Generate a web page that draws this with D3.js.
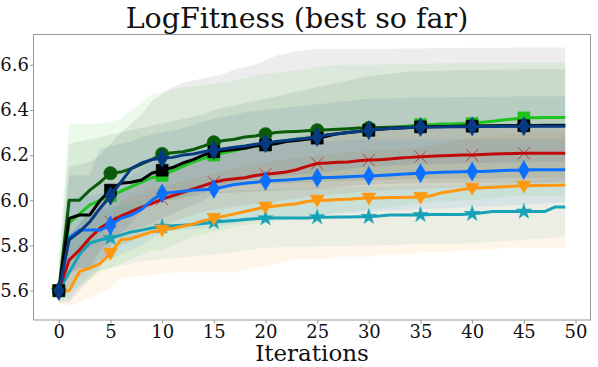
<!DOCTYPE html>
<html>
<head>
<meta charset="utf-8">
<script src="https://cdn.jsdelivr.net/npm/d3@7/dist/d3.min.js"></script>
<style>
  body { margin: 0; background: #fff; }
  text { font-family: "DejaVu Serif", serif; fill: #111; }
</style>
</head>
<body>
<svg id="chart" width="598" height="367"></svg>
<script>
// best-so-far LogFitness per iteration (index = iteration)
var darkGreen = [5.60,6.00,6.00,6.045,6.08,6.12,6.125,6.14,6.16,6.18,
  6.205,6.21,6.215,6.225,6.24,6.257,6.265,6.27,6.28,6.285,
  6.293,6.30,6.303,6.305,6.308,6.31,6.312,6.315,6.317,6.32,
  6.32,6.322,6.323,6.324,6.325,6.326,6.327,6.327,6.328,6.328,
  6.329,6.329,6.33,6.33,6.33,6.331,6.331,6.332,6.332,6.332];
var limeGreen = [5.60,5.90,5.94,5.98,6.00,6.02,6.04,6.06,6.08,6.10,
  6.11,6.13,6.15,6.17,6.185,6.20,6.21,6.22,6.23,6.24,
  6.245,6.255,6.265,6.27,6.275,6.28,6.29,6.295,6.30,6.305,
  6.31,6.315,6.32,6.325,6.33,6.335,6.335,6.338,6.338,6.34,
  6.34,6.345,6.35,6.355,6.36,6.365,6.365,6.366,6.366,6.366];
var black = [5.60,5.92,5.935,5.935,6.00,6.045,6.075,6.08,6.09,6.12,
  6.133,6.145,6.165,6.18,6.20,6.215,6.22,6.225,6.23,6.24,
  6.245,6.25,6.26,6.265,6.27,6.275,6.285,6.295,6.30,6.305,
  6.31,6.315,6.318,6.32,6.322,6.325,6.326,6.327,6.327,6.328,
  6.328,6.329,6.329,6.33,6.33,6.33,6.33,6.331,6.331,6.331];
var navy = [5.60,5.825,5.86,5.905,5.965,6.02,6.08,6.14,6.165,6.18,
  6.186,6.19,6.20,6.205,6.215,6.222,6.228,6.235,6.24,6.248,
  6.253,6.26,6.265,6.27,6.275,6.28,6.29,6.295,6.30,6.305,
  6.31,6.315,6.318,6.32,6.322,6.324,6.325,6.325,6.326,6.326,
  6.327,6.327,6.327,6.328,6.328,6.328,6.328,6.328,6.328,6.328];
var red = [5.60,5.735,5.78,5.833,5.877,5.905,5.93,5.95,5.97,5.985,
  6.005,6.02,6.035,6.05,6.065,6.08,6.09,6.095,6.10,6.11,
  6.115,6.12,6.125,6.135,6.15,6.163,6.165,6.168,6.17,6.175,
  6.178,6.18,6.183,6.187,6.19,6.193,6.195,6.197,6.198,6.20,
  6.20,6.203,6.205,6.206,6.207,6.208,6.208,6.208,6.208,6.208];
var blue = [5.60,5.835,5.868,5.868,5.868,5.89,5.92,5.935,5.96,6.00,
  6.03,6.035,6.04,6.045,6.047,6.05,6.06,6.07,6.075,6.08,
  6.085,6.088,6.09,6.093,6.097,6.10,6.101,6.102,6.104,6.106,
  6.108,6.11,6.112,6.115,6.118,6.12,6.122,6.124,6.125,6.126,
  6.127,6.128,6.13,6.132,6.133,6.134,6.135,6.135,6.135,6.135];
var orange = [5.60,5.60,5.685,5.70,5.72,5.765,5.825,5.83,5.845,5.86,
  5.868,5.875,5.885,5.895,5.91,5.92,5.93,5.94,5.95,5.96,
  5.97,5.975,5.98,5.985,5.995,6.00,6.00,6.003,6.005,6.008,
  6.01,6.01,6.012,6.012,6.013,6.013,6.02,6.033,6.04,6.048,
  6.053,6.055,6.058,6.06,6.062,6.063,6.065,6.066,6.067,6.068];
var teal = [5.60,5.68,5.76,5.81,5.825,5.833,5.846,5.86,5.868,5.877,
  5.883,5.887,5.89,5.893,5.897,5.903,5.907,5.91,5.915,5.918,
  5.92,5.922,5.922,5.922,5.922,5.925,5.925,5.926,5.926,5.927,
  5.927,5.93,5.935,5.935,5.935,5.935,5.937,5.937,5.937,5.937,
  5.94,5.945,5.95,5.95,5.95,5.95,5.95,5.95,5.97,5.97];

// shaded spread (upper / lower edge) for each run
var limeGreenHi = [5.75,6.34,6.34,6.34,6.34,6.345,6.36,6.40,6.43,6.47,
  6.48,6.49,6.50,6.505,6.51,6.515,6.52,6.53,6.54,6.55,
  6.56,6.565,6.57,6.575,6.58,6.59,6.595,6.60,6.60,6.60,
  6.60,6.60,6.602,6.603,6.604,6.605,6.606,6.607,6.607,6.608,
  6.608,6.609,6.609,6.61,6.61,6.61,6.61,6.61,6.61,6.61];
var limeGreenLo = [5.53,5.60,5.62,5.65,5.68,5.70,5.72,5.74,5.76,5.78,
  5.78,5.80,5.82,5.84,5.85,5.86,5.87,5.88,5.89,5.895,
  5.90,5.905,5.91,5.92,5.925,5.93,5.94,5.945,5.95,5.955,
  5.96,5.965,5.97,5.975,5.98,5.99,5.99,5.995,5.995,6.00,
  6.00,6.005,6.01,6.015,6.02,6.02,6.02,6.02,6.02,6.02];
var darkGreenHi = [5.70,6.25,6.26,6.27,6.28,6.29,6.30,6.31,6.32,6.33,
  6.34,6.35,6.36,6.37,6.38,6.40,6.41,6.42,6.43,6.44,
  6.45,6.46,6.47,6.48,6.49,6.50,6.51,6.52,6.53,6.54,
  6.55,6.555,6.56,6.565,6.57,6.57,6.572,6.574,6.575,6.576,
  6.577,6.578,6.578,6.579,6.579,6.58,6.58,6.58,6.58,6.58];
var darkGreenLo = [5.55,5.75,5.76,5.80,5.85,5.90,5.92,5.94,5.96,5.98,
  6.00,6.00,6.01,6.02,6.03,6.05,6.055,6.06,6.065,6.07,
  6.07,6.072,6.074,6.076,6.078,6.08,6.082,6.084,6.086,6.088,
  6.09,6.09,6.09,6.092,6.092,6.094,6.094,6.095,6.095,6.096,
  6.096,6.097,6.097,6.098,6.098,6.099,6.099,6.10,6.10,6.10];
var blackHi = [5.65,6.15,6.16,6.17,6.20,6.25,6.30,6.34,6.38,6.44,
  6.47,6.50,6.52,6.53,6.54,6.55,6.56,6.58,6.59,6.60,
  6.62,6.64,6.65,6.66,6.665,6.67,6.67,6.67,6.67,6.67,
  6.67,6.67,6.67,6.672,6.672,6.672,6.673,6.673,6.674,6.674,
  6.675,6.675,6.675,6.675,6.676,6.676,6.676,6.677,6.677,6.677];
var blackLo = [5.55,5.68,5.70,5.70,5.78,5.83,5.86,5.87,5.88,5.90,
  5.92,5.94,5.96,5.98,6.00,6.03,6.032,6.034,6.036,6.038,
  6.04,6.042,6.044,6.046,6.048,6.05,6.054,6.058,6.062,6.066,
  6.07,6.071,6.072,6.073,6.074,6.075,6.075,6.076,6.076,6.077,
  6.077,6.078,6.078,6.079,6.079,6.08,6.08,6.08,6.08,6.08];
var navyHi = [5.62,6.11,6.11,6.11,6.23,6.24,6.25,6.26,6.28,6.29,
  6.30,6.31,6.32,6.33,6.35,6.36,6.37,6.38,6.39,6.395,
  6.40,6.405,6.41,6.415,6.42,6.425,6.43,6.435,6.44,6.445,
  6.45,6.45,6.452,6.452,6.454,6.454,6.455,6.455,6.456,6.456,
  6.457,6.457,6.458,6.458,6.459,6.459,6.46,6.46,6.46,6.46];
var navyLo = [5.55,5.55,5.60,5.65,5.70,5.80,5.85,5.90,5.95,5.98,
  6.00,6.01,6.02,6.035,6.05,6.06,6.07,6.08,6.09,6.095,
  6.10,6.104,6.108,6.112,6.116,6.12,6.126,6.132,6.138,6.144,
  6.15,6.152,6.154,6.156,6.158,6.16,6.16,6.162,6.162,6.164,
  6.164,6.165,6.166,6.167,6.168,6.168,6.169,6.17,6.17,6.17];
var redHi = [5.62,5.85,5.90,5.95,6.00,6.02,6.05,6.07,6.09,6.10,
  6.12,6.14,6.16,6.17,6.185,6.20,6.21,6.22,6.23,6.24,
  6.25,6.26,6.27,6.28,6.29,6.30,6.305,6.31,6.315,6.318,
  6.32,6.322,6.323,6.324,6.325,6.325,6.326,6.326,6.327,6.327,
  6.328,6.328,6.328,6.329,6.329,6.33,6.33,6.33,6.33,6.33];
var redLo = [5.58,5.62,5.66,5.70,5.74,5.76,5.80,5.82,5.85,5.87,
  5.89,5.905,5.92,5.935,5.95,5.96,5.966,5.972,5.978,5.984,
  5.99,5.996,6.002,6.008,6.014,6.02,6.024,6.028,6.032,6.036,
  6.04,6.042,6.044,6.046,6.048,6.05,6.052,6.054,6.056,6.058,
  6.06,6.062,6.064,6.066,6.068,6.07,6.072,6.074,6.077,6.08];
var blueHi = [5.62,6.00,6.02,6.02,6.03,6.05,6.08,6.11,6.14,6.17,
  6.20,6.203,6.206,6.21,6.215,6.22,6.226,6.232,6.238,6.244,
  6.25,6.252,6.254,6.256,6.258,6.26,6.262,6.264,6.266,6.268,
  6.27,6.27,6.27,6.27,6.27,6.27,6.27,6.27,6.27,6.27,
  6.27,6.27,6.27,6.27,6.27,6.27,6.27,6.27,6.27,6.27];
var blueLo = [5.58,5.67,5.70,5.70,5.72,5.74,5.76,5.78,5.80,5.83,
  5.86,5.864,5.868,5.872,5.876,5.88,5.888,5.896,5.904,5.912,
  5.92,5.923,5.926,5.929,5.932,5.935,5.938,5.941,5.944,5.947,
  5.95,5.952,5.954,5.956,5.958,5.96,5.962,5.964,5.966,5.968,
  5.97,5.972,5.974,5.976,5.978,5.98,5.983,5.986,5.988,5.99];
var orangeHi = [5.62,5.70,5.80,5.83,5.87,5.92,6.00,6.02,6.03,6.05,
  6.06,6.072,6.084,6.096,6.108,6.12,6.13,6.14,6.15,6.16,
  6.17,6.176,6.182,6.188,6.194,6.20,6.204,6.208,6.212,6.216,
  6.22,6.222,6.224,6.226,6.228,6.23,6.24,6.25,6.26,6.27,
  6.28,6.284,6.288,6.292,6.296,6.30,6.30,6.30,6.30,6.30];
var orangeLo = [5.55,5.53,5.55,5.57,5.59,5.61,5.656,5.66,5.665,5.67,
  5.675,5.68,5.68,5.68,5.68,5.68,5.68,5.68,5.69,5.70,
  5.71,5.72,5.73,5.74,5.74,5.74,5.74,5.75,5.75,5.75,
  5.75,5.76,5.76,5.76,5.76,5.77,5.77,5.77,5.77,5.78,
  5.78,5.78,5.78,5.79,5.79,5.79,5.79,5.79,5.79,5.79];
var tealHi = [5.62,5.80,5.90,5.95,5.96,5.97,5.98,5.99,6.00,6.01,
  6.02,6.024,6.028,6.032,6.036,6.04,6.042,6.044,6.046,6.048,
  6.05,6.051,6.052,6.053,6.054,6.055,6.056,6.057,6.058,6.059,
  6.06,6.061,6.062,6.063,6.064,6.065,6.066,6.067,6.068,6.069,
  6.07,6.073,6.076,6.079,6.082,6.085,6.088,6.091,6.095,6.10];
var tealLo = [5.58,5.56,5.62,5.67,5.69,5.70,5.71,5.72,5.73,5.735,
  5.74,5.744,5.748,5.752,5.756,5.76,5.766,5.772,5.778,5.784,
  5.79,5.791,5.792,5.793,5.794,5.795,5.796,5.797,5.798,5.799,
  5.80,5.801,5.802,5.803,5.804,5.805,5.806,5.807,5.808,5.809,
  5.81,5.813,5.816,5.819,5.822,5.825,5.828,5.831,5.835,5.84];

var xTicks = [0, 5, 10, 15, 20, 25, 30, 35, 40, 45, 50];
var yTicks = [5.6, 5.8, 6.0, 6.2, 6.4, 6.6];
var markEvery = 5;

// draw order matters: last one ends up on top
var runs = [
  {color: "#17a2b8", marker: "star",    mean: teal,      hi: tealHi,      lo: tealLo},
  {color: "#ff9811", marker: "tridown", mean: orange,    hi: orangeHi,    lo: orangeLo},
  {color: "#c00a0a", marker: "x",       mean: red,       hi: redHi,       lo: redLo},
  {color: "#0b6fff", marker: "thind",   mean: blue,      hi: blueHi,      lo: blueLo},
  {color: "#1ec31e", marker: "square",  mean: limeGreen, hi: limeGreenHi, lo: limeGreenLo},
  {color: "#0a5c0a", marker: "circle",  mean: darkGreen, hi: darkGreenHi, lo: darkGreenLo},
  {color: "#000000", marker: "square",  mean: black,     hi: blackHi,     lo: blackLo},
  {color: "#083a82", marker: "thind",   mean: navy,      hi: navyHi,      lo: navyLo}
];

var svg = d3.select("#chart");
// plot box (note: "top" is reserved on window, so use a prefix)
var boxLeft = 33.5, boxRight = 590.5, boxTop = 34.5, boxBottom = 320;

var x = d3.scaleLinear().domain([-2.45, 51.45]).range([boxLeft, boxRight]);
var y = d3.scaleLinear().domain([5.47, 6.734]).range([boxBottom, boxTop]);

var plot = svg.append("g");

// bands first, all of them
var area = d3.area()
  .x(function(d, i) { return x(i); })
  .y0(function(d) { return y(d[1]); })
  .y1(function(d) { return y(d[0]); });

runs.forEach(function(r) {
  var pts = r.hi.map(function(h, i) { return [h, r.lo[i]]; });
  plot.append("path")
    .attr("d", area(pts))
    .attr("fill", r.color)
    .attr("fill-opacity", r.color === "#000000" ? 0.07 : 0.085);
});

var line = d3.line()
  .x(function(d, i) { return x(i); })
  .y(function(d) { return y(d); });

function markerPath(kind) {
  if (kind === "circle") return d3.symbol(d3.symbolCircle, 140)();
  if (kind === "square") return "M-6,-6H6V6H-6Z";
  if (kind === "thind") return "M0,-9.5L5.5,0L0,9.5L-5.5,0Z";
  if (kind === "star") return d3.symbol(d3.symbolStar, 75)();
  if (kind === "tridown") return "M-7,-5H7L0,7Z";
  return "M-6,-6L6,6M-6,6L6,-6";
}

runs.forEach(function(r) {
  plot.append("path")
    .attr("d", line(r.mean))
    .attr("fill", "none")
    .attr("stroke", r.color)
    .attr("stroke-width", 3)
    .attr("stroke-linejoin", "round");

  var marks = r.mean.map(function(v, i) { return {i: i, v: v}; })
    .filter(function(d) { return d.i % markEvery === 0; });

  plot.selectAll(null)
    .data(marks)
    .enter().append("path")
    .attr("transform", function(d) { return "translate(" + x(d.i) + "," + y(d.v) + ")"; })
    .attr("d", markerPath(r.marker))
    .attr("fill", r.marker === "x" ? "none" : r.color)
    .attr("stroke", r.color)
    .attr("stroke-opacity", r.marker === "x" ? 0.7 : 1)
    .attr("stroke-width", r.marker === "x" ? 1 : 0.5);
});

// axes
var xAxis = svg.append("g")
  .attr("transform", "translate(0," + boxBottom + ")")
  .call(d3.axisBottom(x).tickValues(xTicks).tickSize(3.5).tickPadding(2).tickSizeOuter(0));
var yAxis = svg.append("g")
  .attr("transform", "translate(" + boxLeft + ",0)")
  .call(d3.axisLeft(y).tickValues(yTicks).tickFormat(d3.format(".1f")).tickSize(3.5).tickPadding(1).tickSizeOuter(0));

[xAxis, yAxis].forEach(function(a) {
  a.select(".domain").remove();
  a.selectAll(".tick line").attr("stroke", "#999");
  a.selectAll(".tick text")
    .style("font-family", "DejaVu Serif")
    .style("font-size", "18px")
    .attr("fill", "#111");
});

// frame
svg.append("rect")
  .attr("x", boxLeft).attr("y", boxTop)
  .attr("width", boxRight - boxLeft).attr("height", boxBottom - boxTop)
  .attr("fill", "none")
  .attr("stroke", "#999")
  .attr("stroke-width", 1);

svg.append("text")
  .attr("x", 297).attr("y", 28)
  .attr("text-anchor", "middle")
  .style("font-size", "28.5px")
  .text("LogFitness (best so far)");

svg.append("text")
  .attr("x", (boxLeft + boxRight) / 2).attr("y", 361)
  .attr("text-anchor", "middle")
  .style("font-size", "23px")
  .text("Iterations");
</script>
</body>
</html>
